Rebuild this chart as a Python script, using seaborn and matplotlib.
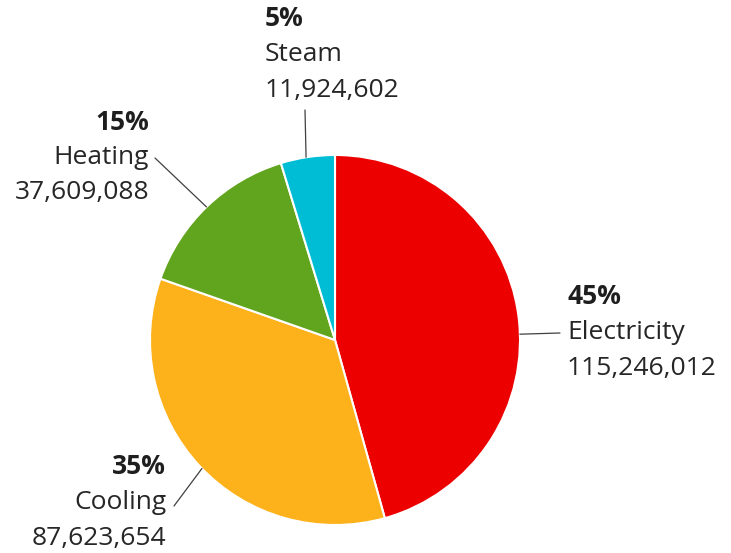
import numpy as np
import matplotlib.pyplot as plt
import seaborn as sns

# data
categories = ['Electricity', 'Cooling', 'Heating', 'Steam']
values = [115246012, 87623654, 37609088, 11924602]
pct_labels = ['45%', '35%', '15%', '5%']
colors = ['#EC0000', '#FDB11B', '#61A41E', '#00BDD6']

sns.set_theme(style='white')
plt.rcParams['font.family'] = ['Open Sans', 'DejaVu Sans']

W, H = 731, 553
fig = plt.figure(figsize=(W / 100, H / 100), dpi=100)
ax = fig.add_axes([0, 0, 1, 1])

cx, cy, r = 335, H - 340, 185
ax.pie(values, colors=colors, startangle=90, counterclock=False,
       center=(cx, cy), radius=r, frame=True,
       wedgeprops=dict(edgecolor='white', linewidth=1.5))
ax.set_xlim(0, W)
ax.set_ylim(0, H)
ax.set_aspect('equal')
ax.axis('off')

# label blocks: (text x, top line y in px from top, alignment, leader end, leader angle)
label_pos = {
    'Electricity': (567, 297, 'left', (560, 333), 1.8),
    'Cooling': (166, 467, 'right', (174, 506), 224),
    'Heating': (149, 122, 'right', (155, 158), 134),
    'Steam': (265, 19, 'left', (305, 110), 99),
}
step = 35.5
fs = 19
for cat, val, pct in zip(categories, values, pct_labels):
    tx, ty, ha, (lx, ly), ang = label_pos[cat]
    ax.text(tx, H - ty, pct, ha=ha, va='center', fontsize=fs,
            fontweight='bold', color='#1e1e1e')
    ax.text(tx, H - ty - step, cat, ha=ha, va='center', fontsize=fs, color='#262626')
    ax.text(tx, H - ty - 2 * step, f'{val:,}', ha=ha, va='center', fontsize=fs,
            color='#262626')
    # leader line from pie edge toward label
    ex = cx + r * np.cos(np.radians(ang))
    ey = cy + r * np.sin(np.radians(ang))
    ax.plot([ex, lx], [ey, H - ly], color='#404040', linewidth=0.9)

fig.savefig('out.png', dpi=100)
